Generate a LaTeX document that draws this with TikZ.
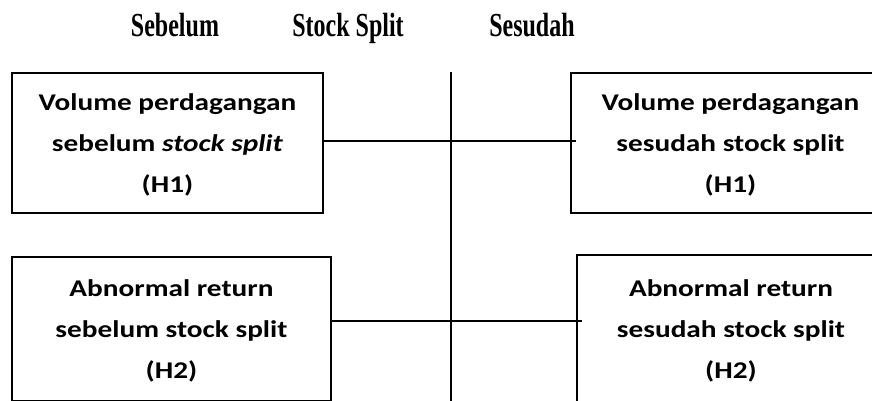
\documentclass[tikz,border=0pt]{standalone}
\usepackage{fontspec}
\usepackage{graphicx}
\setmainfont{Liberation Serif}
\newfontfamily\boxfont{Carlito}
% three centred lines, stretched sideways
\newcommand\boxlines[1]{\scalebox{1.22}[1]{\begin{tabular}{@{}c@{}}#1\end{tabular}}}
\tikzset{
  x=1pt, y=-1pt,
  heading/.style={anchor=base, inner sep=0pt, font=\fontsize{24}{28}\selectfont\bfseries},
  hbox/.style={draw, line width=1.8pt, inner sep=0pt, align=center,
    font=\boxfont\fontsize{24}{41}\selectfont\bfseries},
  link/.style={line width=1.8pt},
}
\begin{document}
\begin{tikzpicture}
\useasboundingbox (0,0) rectangle (872,400);
\clip (0,0) rectangle (872,400);
% column headings
\node[heading] (hbefore) at (175,36) {\scalebox{1}[1.4]{Sebelum}};
\node[heading] (hsplit) at (348,36) {\scalebox{1}[1.4]{Stock Split}};
\node[heading] (hafter) at (532,36) {\scalebox{1}[1.4]{Sesudah}};
% boxes
\node[hbox, minimum width=311pt, minimum height=140pt] (b1) at (167.5,143)
  {\boxlines{Volume perdagangan\\sebelum \textit{stock split}\\(H1)}};
\node[hbox, minimum width=319pt, minimum height=140pt] (b2) at (730.5,143)
  {\boxlines{Volume perdagangan\\sesudah stock split\\(H1)}};
\node[hbox, minimum width=319pt, minimum height=144pt] (b3) at (171.5,329)
  {\boxlines{Abnormal return\\sebelum stock split\\(H2)}};
\node[hbox, minimum width=308pt, minimum height=148pt] (b4) at (731,329)
  {\boxlines{Abnormal return\\sesudah stock split\\(H2)}};
% event axis
\coordinate (atop) at (451,72);
\coordinate (abot) at (451,402);
\draw[link] (atop) -- (abot);
% connectors
\draw[link] (b1.east |- 0,141) -- ([xshift=6pt]b2.west |- 0,141);
\draw[link] (b3.east |- 0,321) -- ([xshift=6pt]b4.west |- 0,321);
\end{tikzpicture}
\end{document}
